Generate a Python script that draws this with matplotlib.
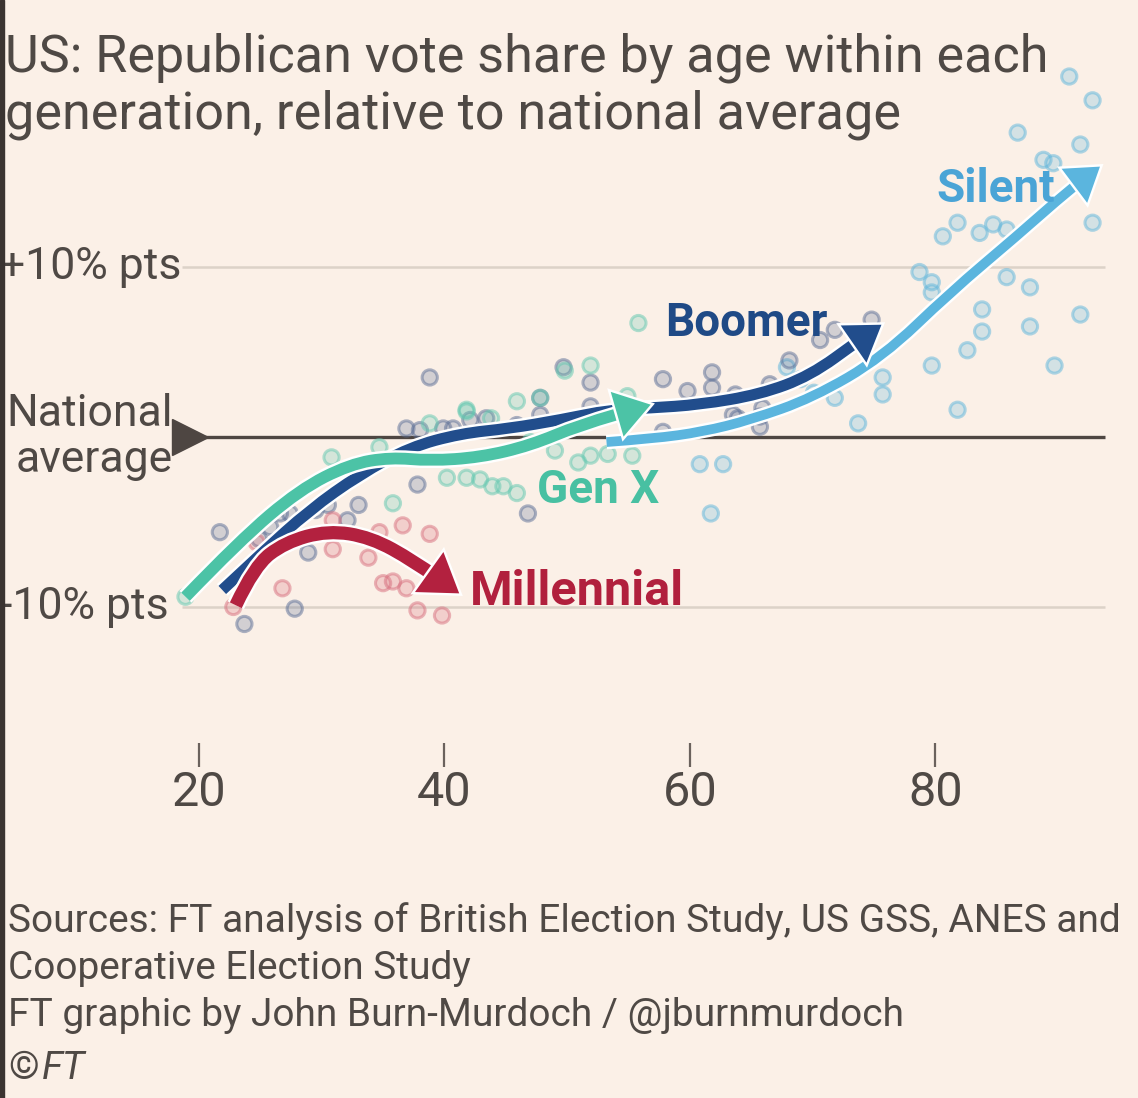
import matplotlib
matplotlib.use("Agg")
import matplotlib.pyplot as plt
import matplotlib.patheffects as pe
from matplotlib.path import Path
from matplotlib.patches import FancyArrowPatch, Rectangle
from matplotlib.colors import to_rgba

# --- data (age, points relative to national average) ---
silent_age = [90.9, 92.8, 86.7, 91.8, 88.8, 89.6, 81.8, 80.6, 83.6, 84.7, 85.8, 92.8,
              78.7, 79.7, 79.7, 85.8, 87.7, 83.8, 83.8, 91.8, 87.7, 82.6, 79.7, 89.7,
              75.7, 75.7, 71.8, 81.8, 73.7, 60.8, 62.7, 61.7, 67.9, 69.0, 70.1]
silent_val = [21.2, 19.8, 17.9, 17.2, 16.3, 16.1, 12.6, 11.8, 12.0, 12.5, 12.2, 12.6,
              9.7, 9.1, 8.5, 9.4, 8.8, 7.5, 6.2, 7.2, 6.5, 5.1, 4.2, 4.2,
              3.5, 2.5, 2.3, 1.6, 0.8, -1.6, -1.6, -4.5, 4.1, 3.4, 2.6]

boomer_age = [51.9, 51.9, 47.8, 45.9, 57.8, 59.8, 61.8, 61.8, 65.9, 65.7, 63.9, 46.8, 57.8,
              38.8, 21.7, 27.8, 23.7, 37.8, 32.1, 28.9, 25.8, 26.6, 27.4, 36.9, 38.0,
              39.9, 40.7, 49.7, 47.8, 43.4, 42.1, 74.8, 71.8, 70.6, 68.1, 66.5, 63.7,
              65.7, 63.5, 24.9, 29.5, 30.5, 33.0]
boomer_val = [3.2, 1.8, 1.3, 0.7, 3.4, 2.7, 3.8, 2.9, 1.7, 0.6, 1.1, -4.5, 0.3,
              3.5, -5.6, -10.1, -11.0, -2.8, -4.9, -6.8, -5.3, -4.5, -4.5, 0.5, 0.4,
              0.5, 0.5, 4.1, 2.3, 1.1, 1.0, 6.9, 6.3, 5.7, 4.5, 3.1, 2.5,
              1.2, 1.3, -6.0, -4.3, -4.0, -4.0]

genx_age = [49.8, 51.9, 45.9, 47.8, 41.8, 43.8, 54.9, 50.9, 51.9, 44.8, 45.9, 43.9, 42.9,
            55.8, 53.3, 55.3, 41.8, 38.8, 34.7, 30.8, 35.8, 18.9, 40.2, 41.8, 47.0, 49.0]
genx_val = [3.9, 4.2, 2.1, 2.3, 1.6, 1.1, 2.4, -1.5, -1.1, -2.9, -3.3, -2.9, -2.5,
            6.7, -1.0, -1.1, 1.5, 0.8, -0.6, -1.2, -3.9, -9.4, -2.4, -2.4, -0.3, -0.8]

mill_age = [30.9, 36.6, 38.8, 34.7, 24.7, 30.9, 33.8, 26.8, 22.8, 35.8, 36.9, 37.8, 39.8, 35.0]
mill_val = [-4.9, -5.2, -5.7, -5.6, -6.2, -6.6, -7.1, -8.9, -10.0, -8.5, -8.9, -10.2, -10.5, -8.6]

# trend arrows (waypoints)
mill_trend_age = [23.0, 24.5, 27.0, 30.5, 34.0, 37.5, 41.2]
mill_trend_val = [-9.9, -7.6, -6.2, -5.5, -5.9, -7.3, -9.2]
genx_trend_age = [18.9, 23.3, 28.2, 32.3, 35.6, 38.8, 42.9, 47.0, 51.0, 56.8]
genx_trend_val = [-9.4, -6.1, -3.1, -1.6, -1.2, -1.4, -1.2, -0.5, 0.7, 1.9]
boomer_trend_age = [21.9, 25.0, 29.0, 33.1, 37.2, 41.3, 45.3, 49.4, 53.5, 56.7, 60.8, 65.7, 69.8, 73.8, 75.6]
boomer_trend_val = [-9.0, -6.9, -4.3, -2.2, -0.6, 0.2, 0.5, 1.0, 1.6, 1.7, 1.9, 2.5, 3.6, 5.7, 6.6]
silent_trend_age = [53.2, 57.0, 61.0, 64.9, 70.0, 75.7, 81.2, 86.6, 91.0, 93.4]
silent_trend_val = [-0.3, -0.1, 0.3, 1.0, 2.3, 4.7, 8.5, 11.8, 14.6, 15.9]

x_ticks = [20, 40, 60, 80]
y_labels = {10: "+10% pts", -10: "-10% pts"}

BG = "#FBF0E7"
TXT = "#4f4945"

plt.rcParams['font.family'] = ['Roboto', 'DejaVu Sans']

fig = plt.figure(figsize=(11.38, 10.98), dpi=100, facecolor=BG)
ax = fig.add_axes([0, 0, 1, 1], facecolor=BG)
ax.set_xlim(3.79, 96.5)
ax.set_ylim(-38.88, 25.7)

# grid + national average
ax.hlines([10, -10], 18.6, 93.8, color="#dcd2c8", lw=1.8, zorder=1)
ax.hlines(0, 19.4, 93.8, color="#4e4642", lw=2.4, zorder=1)
ax.plot([19.3], [0], marker=">", markersize=26, color="#4e4642", zorder=1)


def scatter(xs, ys, c):
    ax.scatter(xs, ys, s=120, facecolors=[to_rgba(c, 0.25)] * len(xs),
               edgecolors=[to_rgba(c, 0.5)] * len(xs), linewidths=2.2, zorder=2)


scatter(silent_age, silent_val, "#5fb6dc")
scatter(boomer_age, boomer_val, "#5b6e96")
scatter(genx_age, genx_val, "#62c8b0")
scatter(mill_age, mill_val, "#d8707f")


def smooth(xs, ys):
    verts = [(xs[0], ys[0])]
    codes = [Path.MOVETO]
    for i in range(1, len(xs) - 1):
        verts += [(xs[i], ys[i]), ((xs[i] + xs[i + 1]) / 2, (ys[i] + ys[i + 1]) / 2)]
        codes += [Path.CURVE3, Path.CURVE3]
    verts.append((xs[-1], ys[-1]))
    codes.append(Path.LINETO)
    return Path(verts, codes)


def arrow(xs, ys, c, lw, z):
    a = FancyArrowPatch(path=smooth(xs, ys),
                        arrowstyle="-|>,head_length=0.6,head_width=0.4",
                        mutation_scale=22, lw=lw, color=c, capstyle="butt",
                        joinstyle="miter", zorder=z)
    a.set_path_effects([pe.Stroke(linewidth=lw + 3.5, foreground="white"), pe.Normal()])
    ax.add_patch(a)


arrow(silent_trend_age, silent_trend_val, "#5bb5de", 7, 3)
arrow(boomer_trend_age, boomer_trend_val, "#214d8c", 8, 4)
arrow(genx_trend_age, genx_trend_val, "#4cc3a6", 8.5, 5)
arrow(mill_trend_age, mill_trend_val, "#b3213f", 9.5, 6)

# series labels
ax.text(89.7, 14.6, "Silent", color="#4aa4d6", fontsize=33, fontweight="bold", ha="right", va="center", zorder=7)
ax.text(71.2, 6.7, "Boomer", color="#1f4a86", fontsize=33, fontweight="bold", ha="right", va="center", zorder=7)
ax.text(52.5, -3.1, "Gen X", color="#48c0a2", fontsize=33, fontweight="bold", ha="center", va="center", zorder=7)
ax.text(42.1, -9.1, "Millennial", color="#b1203d", fontsize=35, fontweight="bold", ha="left", va="center", zorder=7)

# y labels
for v, s in y_labels.items():
    ax.text(3.75, v, s, color=TXT, fontsize=32, ha="left", va="center")
ax.text(17.9, 0, "National\naverage", color=TXT, fontsize=32, ha="right", va="center",
        multialignment="right", linespacing=1.12)

# x axis: ticks only
for s in ["top", "right", "left"]:
    ax.spines[s].set_visible(False)
ax.spines["bottom"].set_position(("data", -19.4))
ax.spines["bottom"].set_visible(False)
ax.set_yticks([])
ax.set_xticks(x_ticks)
ax.tick_params(axis="x", direction="in", length=17, width=1.6, color="#6b625d",
               labelsize=35, labelcolor=TXT, pad=2)

# title + footer
fig.text(0.004, 0.97, "US: Republican vote share by age within each\ngeneration, relative to national average",
         color=TXT, fontsize=37.5, ha="left", va="top", linespacing=1.15)
fig.text(0.007, 0.178,
         "Sources: FT analysis of British Election Study, US GSS, ANES and\nCooperative Election Study\n"
         "FT graphic by John Burn-Murdoch / @jburnmurdoch",
         color=TXT, fontsize=28, ha="left", va="top", linespacing=1.33)
fig.text(0.007, 0.027, "©", color=TXT, fontsize=28, ha="left", va="center")
fig.text(0.037, 0.027, "FT", color=TXT, fontsize=28, ha="left", va="center", style="italic")

# dark edge at the left of the screenshot
fig.patches.append(Rectangle((0, 0), 4 / 1138, 1, transform=fig.transFigure, color="#3b3431", zorder=10))

fig.savefig("out.png", dpi=100, facecolor=BG)
